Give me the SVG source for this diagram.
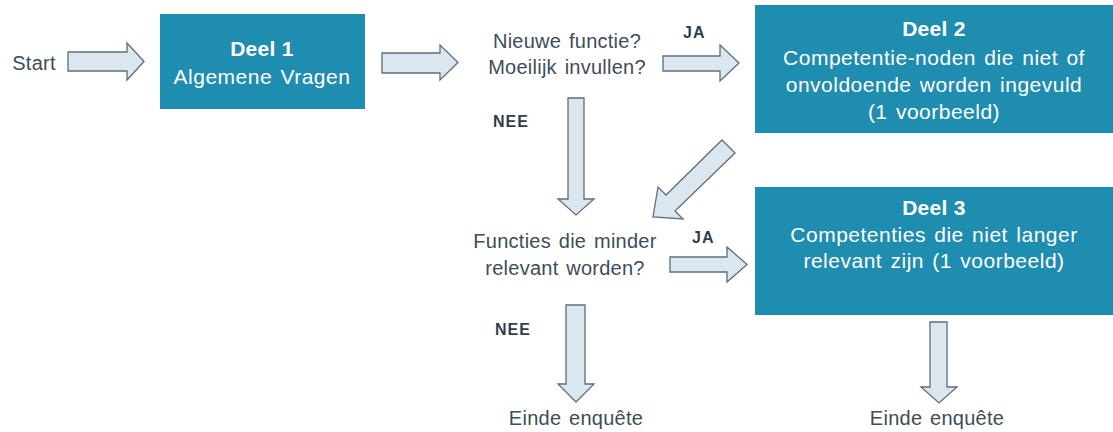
<svg xmlns="http://www.w3.org/2000/svg" width="1113" height="432" viewBox="0 0 1113 432">
<style>
.box{fill:#1f8db0;}
.arr{fill:#dce6ef;stroke:#5b6f7c;stroke-width:1.3;stroke-linejoin:miter;}
.t{font-family:"Liberation Sans",Arial,sans-serif;font-size:20px;fill:#3d4d59;text-anchor:middle;letter-spacing:0.25px;word-spacing:2px;}
.w{font-family:"Liberation Sans",Arial,sans-serif;font-size:21px;fill:#ffffff;text-anchor:middle;letter-spacing:0.5px;word-spacing:2px;}
.wb{font-family:"Liberation Sans",Arial,sans-serif;font-size:21px;fill:#ffffff;text-anchor:middle;font-weight:bold;letter-spacing:0.3px;}
.lb{font-family:"Liberation Sans",Arial,sans-serif;font-size:16px;fill:#2f3f4a;font-weight:bold;letter-spacing:1px;}
</style>
<rect width="1113" height="432" fill="#ffffff"/>
<g id="start"><text class="t" x="34" y="70">Start</text></g>
<g id="deel1">
<rect class="box" x="160" y="14" width="205" height="95"/>
<text class="wb" x="262" y="56">Deel 1</text>
<text class="w" x="262" y="84">Algemene Vragen</text>
</g>
<g id="q1">
<text class="t" x="567" y="48">Nieuwe functie?</text>
<text class="t" x="567" y="74">Moeilijk invullen?</text>
</g>
<g id="deel2">
<rect class="box" x="755" y="5" width="358" height="128"/>
<text class="wb" x="934" y="36">Deel 2</text>
<text class="w" x="934" y="65">Competentie-noden die niet of</text>
<text class="w" x="934" y="92">onvoldoende worden ingevuld</text>
<text class="w" x="934" y="119">(1 voorbeeld)</text>
</g>
<g id="q2">
<text class="t" x="565" y="248">Functies die minder</text>
<text class="t" x="565" y="275">relevant worden?</text>
</g>
<g id="deel3">
<rect class="box" x="755" y="187" width="358" height="128"/>
<text class="wb" x="934" y="215">Deel 3</text>
<text class="w" x="934" y="242">Competenties die niet langer</text>
<text class="w" x="934" y="268">relevant zijn (1 voorbeeld)</text>
</g>
<g id="end1"><text class="t" x="576" y="425">Einde enquête</text></g>
<g id="end2"><text class="t" x="937" y="425">Einde enquête</text></g>
<g id="connectors">
<path class="arr" d="M68,52 H127 V43 L144,61.5 L127,80 V71 H68 Z"/>
<path class="arr" d="M382,53 H440 V45 L458,62.5 L440,80 V73 H382 Z"/>
<path class="arr" d="M663,56 H720 V45 L739,63 L720,81 V71 H663 Z"/>
<path class="arr" d="M568,98 H584 V199 H594 L576,215 L558,199 H568 Z"/>
<path class="arr" d="M735,153 L722,140 L666,195 L658,187 L653,217 L683,219 L675,211 Z"/>
<path class="arr" d="M670,257 H727 V247 L747,264.5 L727,282 V272 H670 Z"/>
<path class="arr" d="M566,305 H585 V384 H594 L576,402 L558,384 H566 Z"/>
<path class="arr" d="M930,322 H947 V387 H957 L939,403 L921,387 H930 Z"/>
<text class="lb" x="683" y="38">JA</text>
<text class="lb" x="493" y="127">NEE</text>
<text class="lb" x="692" y="243">JA</text>
<text class="lb" x="495" y="335">NEE</text>
</g>
</svg>
